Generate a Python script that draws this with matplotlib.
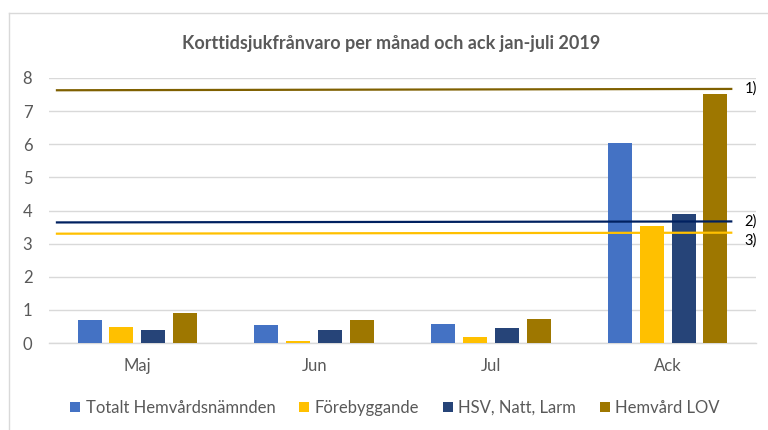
import matplotlib
matplotlib.use("Agg")
import matplotlib.pyplot as plt
from matplotlib.lines import Line2D
from matplotlib.patches import Patch
import numpy as np

# data
kategorier = ["Maj", "Jun", "Jul", "Ack"]
serier = ["Totalt Hemvårdsnämnden", "Förebyggande", "HSV, Natt, Larm", "Hemvård LOV"]
totalt = [0.69, 0.54, 0.57, 6.05]
forebyggande = [0.48, 0.06, 0.18, 3.53]
hsv = [0.39, 0.39, 0.45, 3.90]
hemvard_lov = [0.91, 0.69, 0.72, 7.51]
# referenslinjer (vänster, höger)
ref_etiketter = ["1)", "2)", "3)"]
ref_1 = [7.63, 7.67]
ref_2 = [3.64, 3.67]
ref_3 = [3.30, 3.33]

FARGER = ["#4472C4", "#FFC000", "#264478", "#9E7700"]
REF_FARGER = ["#7F6000", "#002060", "#FFC000"]
TEXT_GRA = "#595959"

plt.rcParams["font.family"] = ["Lato", "DejaVu Sans"]

fig = plt.figure(figsize=(7.68, 4.3), dpi=100)
ax = fig.add_axes([49 / 768, 87 / 430, 707 / 768, 265 / 430])

x = np.arange(len(kategorier))
bredd = 0.136
offsets = [-0.27, -0.09, 0.09, 0.27]
for vals, off, farg, namn in zip([totalt, forebyggande, hsv, hemvard_lov], offsets, FARGER, serier):
    ax.bar(x + off, vals, width=bredd, color=farg, label=namn, zorder=3)

# referenslinjer
x_ref = [-0.455, 3.36]
for vals, farg in zip([ref_1, ref_2, ref_3], REF_FARGER):
    ax.plot(x_ref, vals, color=farg, linewidth=1.6, zorder=4)

# etiketterna 1) 2) 3) till höger (3) sitter en bit under sin linje)
label_y = [ref_1[1], ref_2[1], ref_3[1] - 0.25]
for lab, yv in zip(ref_etiketter, label_y):
    ax.annotate(lab, xy=(0.984, yv), xycoords=("axes fraction", "data"),
                fontsize=10.5, color="#000000", ha="left", va="center",
                annotation_clip=False)

ax.set_xlim(-0.5, 3.5)
ax.set_ylim(0, 8)
ax.set_yticks(range(0, 9))
ax.set_xticks(x)
ax.set_xticklabels(kategorier)
ax.grid(axis="y", color="#D9D9D9", linewidth=1.0, zorder=0)
ax.set_axisbelow(True)
for s in ["top", "right", "left"]:
    ax.spines[s].set_visible(False)
ax.spines["bottom"].set_color("#D9D9D9")
ax.spines["bottom"].set_linewidth(1.0)
ax.tick_params(axis="both", length=0, colors=TEXT_GRA, labelsize=12)
ax.tick_params(axis="y", pad=12)
ax.tick_params(axis="x", pad=11)

fig.text(391 / 768, 1 - 43 / 430, "Korttidsjukfrånvaro per månad och ack jan-juli 2019",
         ha="center", va="center", fontsize=13, fontweight="bold", color=TEXT_GRA)

handles = [Patch(facecolor=f, edgecolor="none") for f in FARGER]
fig.legend(handles, serier, loc="center left", bbox_to_anchor=(70 / 768, 1 - 408 / 430),
           ncol=4, frameon=False, fontsize=12, handlelength=0.6, handleheight=0.6,
           handletextpad=0.35, columnspacing=1.4, borderpad=0, borderaxespad=0,
           labelcolor=TEXT_GRA)

# ram runt diagrammet
fig.add_artist(Line2D([8.5 / 768, 8.5 / 768], [0, 1 - 12.5 / 430], color="#D9D9D9", linewidth=1.0))
fig.add_artist(Line2D([8.5 / 768, 1], [1 - 12.5 / 430, 1 - 12.5 / 430], color="#D9D9D9", linewidth=1.0))

fig.savefig("out.png", dpi=100)
